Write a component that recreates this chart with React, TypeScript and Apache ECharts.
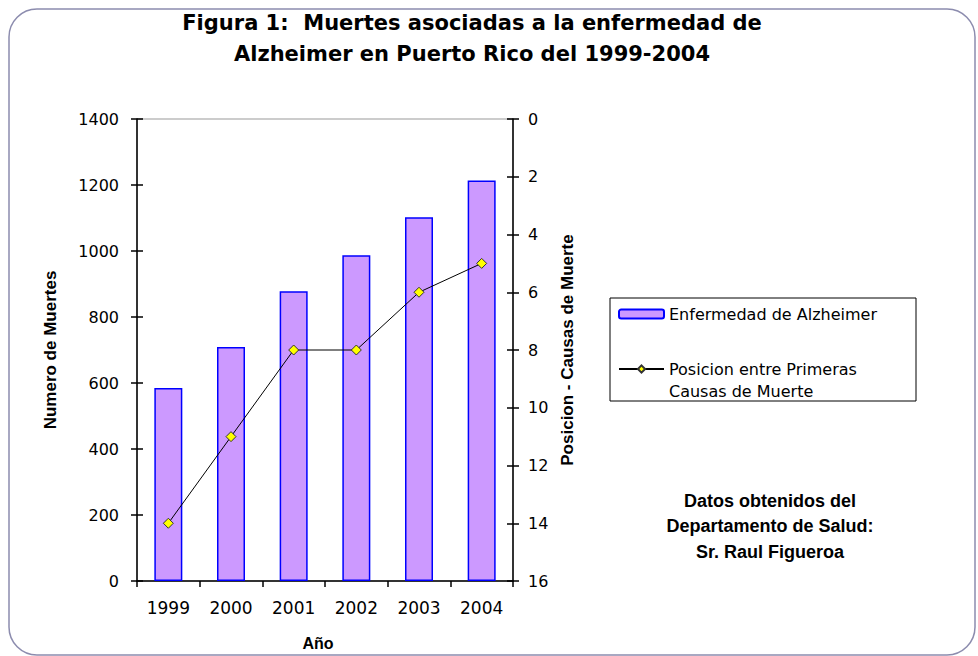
import React, { useEffect, useRef } from "react";
import * as echarts from "echarts";

const years = ["1999", "2000", "2001", "2002", "2003", "2004"];
const deaths = [585, 709, 878, 987, 1102, 1214];
const rank = [14, 11, 8, 8, 6, 5];
const titleLines = [
  "Figura 1:  Muertes asociadas a la enfermedad de",
  "Alzheimer en Puerto Rico del 1999-2004",
];
const noteLines = ["Datos obtenidos del", "Departamento de Salud:", "Sr. Raul Figueroa"];
const barName = "Enfermedad de Alzheimer";
const lineName = "Posicion entre Primeras\nCausas de Muerte";

export default function App() {
  const ref = useRef<HTMLDivElement>(null);
  useEffect(() => {
    if (!ref.current) return;
    const chart = echarts.init(ref.current, null, { renderer: "svg" });
    const tickFont = { fontFamily: "DejaVu Sans", fontSize: 16, color: "#000" };
    const nameFont = { fontFamily: "Liberation Sans", fontSize: 17, fontWeight: "bold" as const, color: "#000" };
    const plain = (v: number) => String(v);
    chart.setOption({
      animation: false,
      backgroundColor: "#fff",
      grid: {
        left: 137,
        top: 119,
        width: 376,
        height: 465,
        show: true,
        borderColor: "#999",
        borderWidth: 1,
        backgroundColor: "transparent",
      },
      xAxis: {
        type: "category",
        data: years,
        boundaryGap: true,
        name: "Año",
        nameLocation: "middle",
        nameGap: 54,
        nameTextStyle: { fontFamily: "Liberation Sans", fontSize: 16, fontWeight: "bold", color: "#000", padding: [0, 14, 0, 0] },
        axisLine: { lineStyle: { color: "#000", width: 1.5 } },
        axisTick: { show: true, length: 6, inside: false, alignWithLabel: false, lineStyle: { color: "#000", width: 1.5 } },
        axisLabel: { ...tickFont, fontSize: 17, margin: 18 },
        splitLine: { show: false },
      },
      yAxis: [
        {
          type: "value",
          position: "left",
          min: 0,
          max: 1400,
          interval: 200,
          name: "Numero de Muertes",
          nameLocation: "middle",
          nameRotate: 90,
          nameGap: 78,
          nameTextStyle: nameFont,
          axisLine: { show: true, lineStyle: { color: "#000", width: 1.5 } },
          axisTick: { show: true, length: 6, inside: false, lineStyle: { color: "#000", width: 1.5 } },
          axisLabel: { ...tickFont, margin: 18, formatter: plain },
          splitLine: { show: false },
        },
        {
          type: "value",
          position: "right",
          min: 0,
          max: 16,
          interval: 2,
          inverse: true,
          name: "Posicion - Causas de Muerte",
          nameLocation: "middle",
          nameRotate: 90,
          nameGap: 46,
          nameTextStyle: nameFont,
          axisLine: { show: true, lineStyle: { color: "#000", width: 1.5 } },
          axisTick: { show: true, length: 6, inside: false, lineStyle: { color: "#000", width: 1.5 } },
          axisLabel: { ...tickFont, margin: 15, formatter: plain },
          splitLine: { show: false },
        },
        {
          type: "value",
          position: "left",
          min: 0,
          max: 1400,
          interval: 200,
          axisLine: { show: false },
          axisTick: { show: true, length: 6, inside: true, lineStyle: { color: "#000", width: 1.5 } },
          axisLabel: { show: false },
          splitLine: { show: false },
        },
        {
          type: "value",
          position: "right",
          min: 0,
          max: 16,
          interval: 2,
          inverse: true,
          axisLine: { show: false },
          axisTick: { show: true, length: 6, inside: true, lineStyle: { color: "#000", width: 1.5 } },
          axisLabel: { show: false },
          splitLine: { show: false },
        },
      ],
      legend: {
        orient: "vertical",
        left: 618,
        top: 303,
        padding: 0,
        itemGap: 11,
        itemWidth: 45,
        itemHeight: 9,
        textStyle: { fontFamily: "DejaVu Sans", fontSize: 16, color: "#000", lineHeight: 22 },
        formatter: (name: string) => (name === lineName ? " \n" + name : name),
        data: [{ name: barName }, { name: lineName }],
      },
      series: [
        {
          name: barName,
          type: "bar",
          yAxisIndex: 0,
          data: deaths,
          barWidth: 28,
          itemStyle: { color: "#cc99ff", borderColor: "#0000ff", borderWidth: 1.5 },
        },
        {
          name: lineName,
          type: "line",
          yAxisIndex: 1,
          data: rank,
          symbol: "diamond",
          symbolSize: 10,
          lineStyle: { color: "#000", width: 1 },
          itemStyle: { color: "#ffff00", borderColor: "#333", borderWidth: 1 },
        },
      ],
      graphic: [
        {
          type: "rect",
          silent: true,
          shape: { x: 9, y: 9, width: 966, height: 646, r: 28 },
          style: { fill: "none", stroke: "#8c8cae", lineWidth: 1.5 },
          z: -10,
        },
        {
          type: "rect",
          silent: true,
          shape: { x: 610, y: 298, width: 306, height: 103 },
          style: { fill: "none", stroke: "#000", lineWidth: 1 },
        },
        {
          type: "text",
          silent: true,
          style: {
            text: titleLines.join("\n"),
            x: 472,
            y: 7,
            align: "center",
            verticalAlign: "top",
            fontFamily: "DejaVu Sans",
            fontWeight: "bold",
            fontSize: 21,
            lineHeight: 31,
            fill: "#000",
          },
        },
        {
          type: "text",
          silent: true,
          style: {
            text: noteLines.join("\n"),
            x: 770,
            y: 488,
            align: "center",
            verticalAlign: "top",
            fontFamily: "Liberation Sans",
            fontWeight: "bold",
            fontSize: 18,
            lineHeight: 25.5,
            fill: "#000",
          },
        },
      ],
    });
    return () => chart.dispose();
  }, []);
  return (
    <div
      ref={ref}
      style={{ position: "absolute", left: 0, top: 0, width: 978, height: 656, background: "#fff" }}
    />
  );
}
